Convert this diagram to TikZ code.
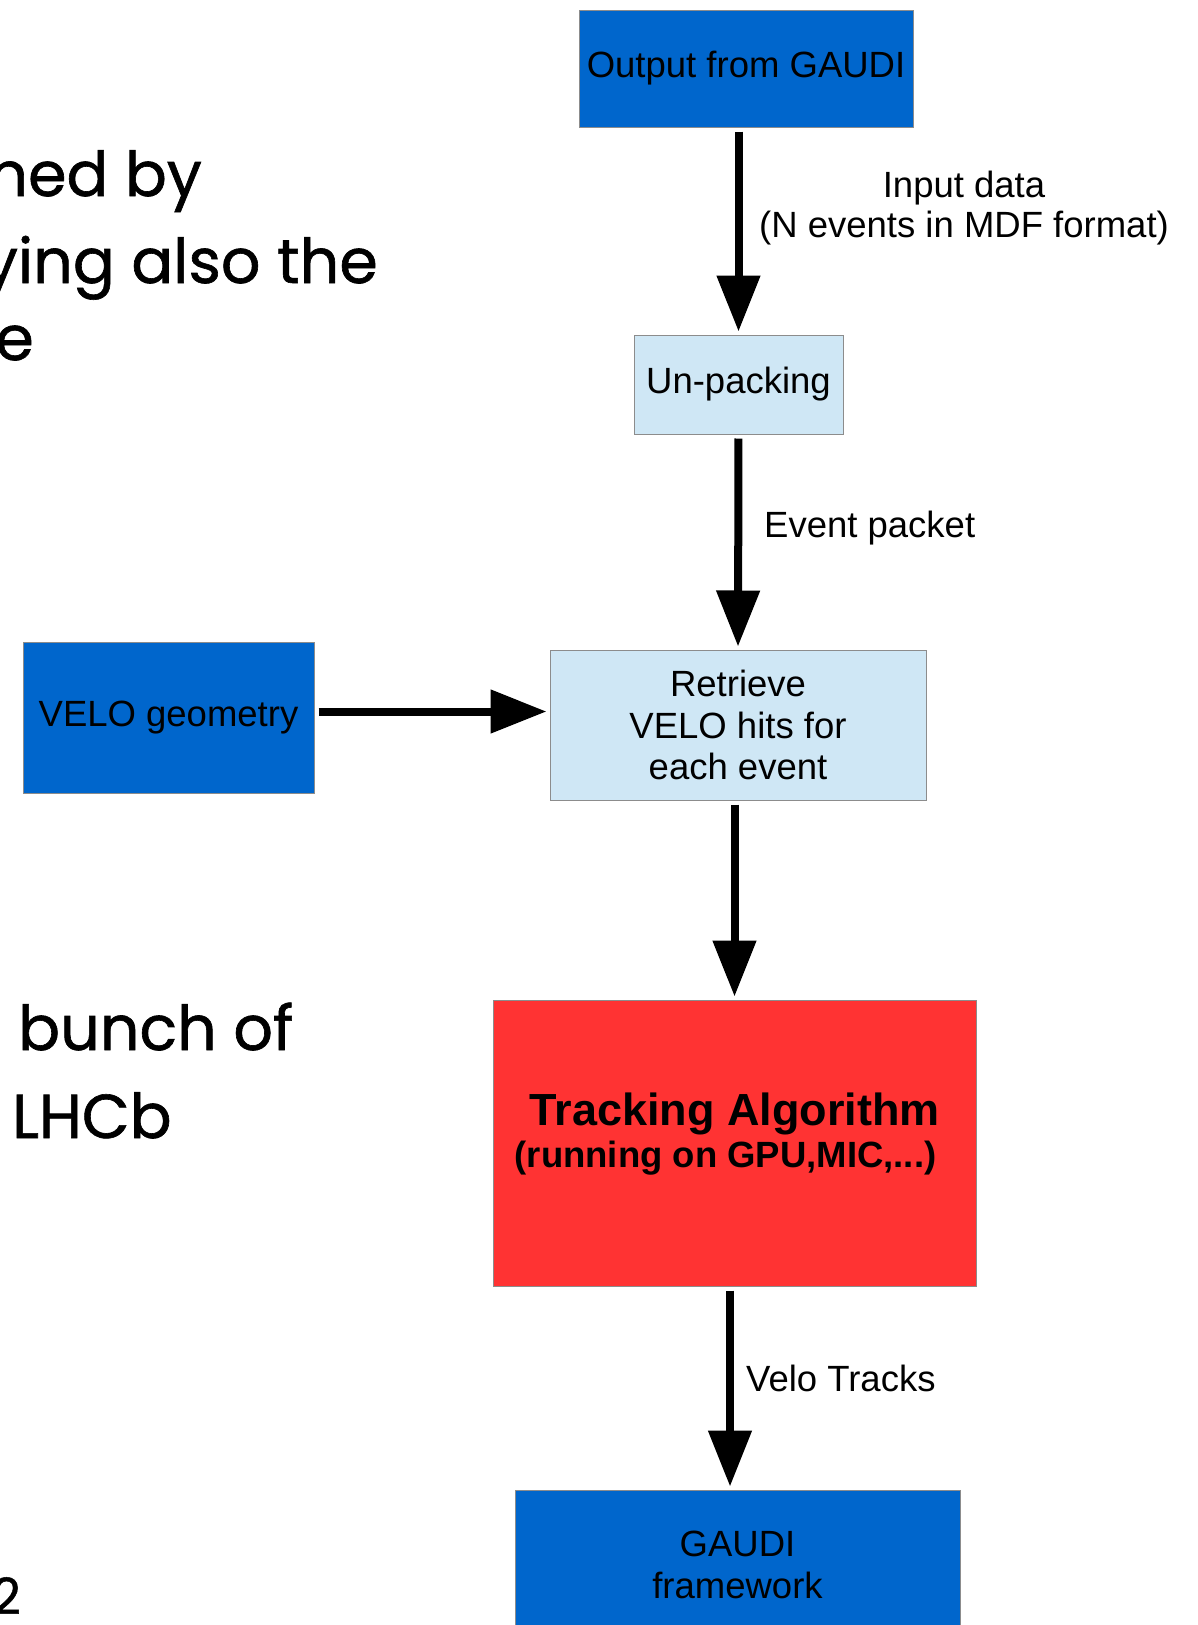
\documentclass[tikz,border=0pt]{standalone}
\usepackage{fontspec}
\setmainfont{Liberation Sans}
\newfontfamily\slidefont{Poppins}[FakeBold=1]
\usetikzlibrary{arrows.meta}
\definecolor{gaudi_blue}{RGB}{0,102,204}
\definecolor{pale_blue}{RGB}{207,231,245}
\definecolor{algo_red}{RGB}{255,51,51}
\definecolor{edge_gray}{RGB}{140,140,140}

\tikzset{
	box/.style={draw=edge_gray,line width=1pt,inner sep=0pt,align=center,font=\fontsize{36.5}{41.5}\selectfont},
	flow/.style={line width=8pt,-{Triangle[width=42pt,length=56pt]},shorten <=4pt,shorten >=3pt},
	lbl/.style={inner sep=0pt,align=center,font=\fontsize{36.5}{40}\selectfont},
	slide/.style={inner sep=0pt,font=\slidefont\fontsize{62}{62}\selectfont}
}

\begin{document}
\begin{tikzpicture}[x=1pt,y=-1pt]
	\useasboundingbox (0,0) rectangle (1198,1625);
	\clip (0,0) rectangle (1198,1625);

	% text of the slide, cut at the left
	\node[slide,anchor=base east] (s1) at (202,196) {ned by};
	\node[slide,anchor=base east] (s2) at (378,283) {ying also the};
	\node[slide,anchor=base east] (s3) at (34,360) {e};
	\node[slide,anchor=base west] (s4) at (18,1050) {bunch of};
	\node[slide,anchor=base west] (s5) at (12,1138) {LHCb};
	\node[slide,anchor=base east,font=\slidefont\fontsize{50}{50}\selectfont] (s6) at (21,1614) {2};

	% flow chart
	\node[box,fill=gaudi_blue,minimum width=334pt,minimum height=117pt] (out) at (746,68.5) {Output from GAUDI};
	\node[box,fill=pale_blue,minimum width=209pt,minimum height=99pt] (unpack) at (738.5,384.5) {Un-packing};
	\node[box,fill=pale_blue,minimum width=376pt,minimum height=150pt] (retr) at (738,725) {Retrieve\\VELO hits for\\each event};
	\node[box,fill=gaudi_blue,minimum width=291pt,minimum height=151pt] (velo) at (168.5,717.5) {VELO geometry};
	\node[box,fill=algo_red,minimum width=483pt,minimum height=286pt,text depth=26pt,font=\bfseries\fontsize{36.5}{42}\selectfont] (track) at (734.5,1143)
		{{\fontsize{45}{42}\selectfont Tracking Algorithm}\\(running on GPU,MIC,...)\hspace*{18pt}};
	\node[box,fill=gaudi_blue,minimum width=445pt,minimum height=150pt] (gaudi) at (737.5,1565) {GAUDI\\framework};

	\node[lbl] (indata) at (964,208) {Input data\\(N events in MDF format)};
	\node[lbl,anchor=west] (evpk) at (764,528) {Event packet};
	\node[lbl,anchor=west] (vtrk) at (746,1378) {Velo Tracks};

	\draw[flow] (out.south -| unpack) -- (unpack.north);
	\draw[flow] (unpack.south) -- (retr.north);
	\draw[flow] ([yshift=6pt]velo.east) -- ([yshift=6pt]velo.east -| retr.west);
	\draw[flow] (retr.south -| track) -- (track.north);
	\draw[flow] ([xshift=-4.5pt]track.south) -- ([xshift=-4.5pt]gaudi.north -| track);
\end{tikzpicture}
\end{document}
